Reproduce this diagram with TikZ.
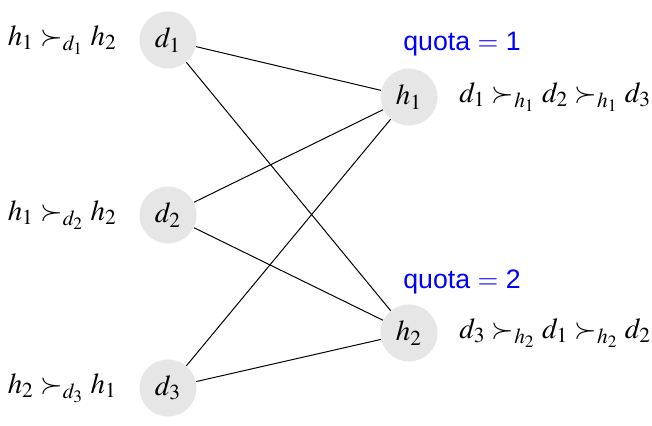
\documentclass[tikz,border=0pt]{standalone}
\usepackage{mathptmx}
\usepackage[no-math]{fontspec}
\setsansfont{Liberation Sans}
\usepackage{tikz}
\usetikzlibrary{positioning}
\definecolor{grisNodo}{RGB}{230,230,230}
\definecolor{azulQuota}{RGB}{0,0,255}
\tikzset{
  bm/agent/.style={circle, fill=grisNodo, draw=none, minimum size=28.5bp,
    inner sep=0pt, font=\fontsize{14.5}{17}\selectfont},
  bm/pref/.style={inner sep=0pt, font=\fontsize{14.5}{17}\selectfont},
  bm/quota/.style={inner sep=0pt, anchor=west,
    font=\fontsize{13.4}{16}\sffamily\color{azulQuota}},
  bm/edge/.style={line width=0.5pt, draw=black}
}
\begin{document}
\begin{tikzpicture}[x=0.5bp, y=-0.5bp]
  \useasboundingbox (0,0) rectangle (652,426);
  \node[bm/agent] (d1) at (168,40)  {$d_1$};
  \node[bm/agent] (d2) at (168,215) {$d_2$};
  \node[bm/agent] (d3) at (168,388) {$d_3$};
  \node[bm/agent] (h1) at (409,97)  {$h_1$};
  \node[bm/agent] (h2) at (409,333) {$h_2$};

  \node[bm/pref, left=11bp of d1] (p1) {$h_1 \succ_{d_1} h_2$};
  \node[bm/pref, left=11bp of d2] (p2) {$h_1 \succ_{d_2} h_2$};
  \node[bm/pref, left=11bp of d3] (p3) {$h_2 \succ_{d_3} h_1$};
  \node[bm/pref, right=10.5bp of h1] (ph1) {$d_1 \succ_{h_1} d_2 \succ_{h_1} d_3$};
  \node[bm/pref, right=10.5bp of h2] (ph2) {$d_3 \succ_{h_2} d_1 \succ_{h_2} d_2$};

  \node[bm/quota] (q1) at (403,44)  {quota $=$ 1};
  \node[bm/quota] (q2) at (403,282) {quota $=$ 2};

  \draw[bm/edge] (d1) -- (h1);
  \draw[bm/edge] (d1) -- (h2);
  \draw[bm/edge] (d2) -- (h1);
  \draw[bm/edge] (d2) -- (h2);
  \draw[bm/edge] (d3) -- (h1);
  \draw[bm/edge] (d3) -- (h2);
\end{tikzpicture}
\end{document}
